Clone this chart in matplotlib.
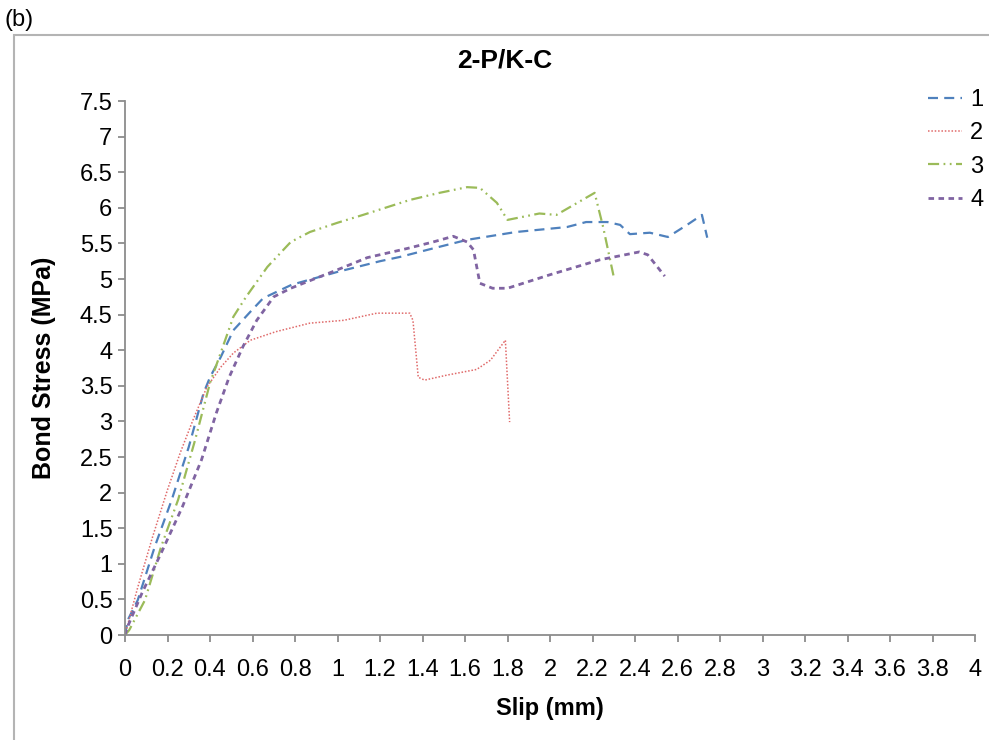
import matplotlib
matplotlib.use('Agg')
import matplotlib.pyplot as plt
from matplotlib.patches import Rectangle

plt.rcParams['font.family'] = ['Liberation Sans', 'DejaVu Sans']

# specimen 1
x1 = [0, 0.013, 0.06, 0.14, 0.22, 0.30, 0.37, 0.40, 0.45, 0.51, 0.59, 0.65, 0.785, 1.0, 1.2, 1.294,
      1.45, 1.61, 1.84, 2.08, 2.17, 2.27, 2.33, 2.376, 2.47, 2.555, 2.645, 2.715, 2.74]
y1 = [0, 0.21, 0.49, 1.24, 1.90, 2.64, 3.40, 3.62, 3.90, 4.28, 4.54, 4.73, 4.92, 5.10, 5.25, 5.31,
      5.43, 5.55, 5.66, 5.73, 5.80, 5.80, 5.76, 5.63, 5.65, 5.59, 5.76, 5.90, 5.58]
# specimen 2
x2 = [0, 0.06, 0.13, 0.20, 0.26, 0.32, 0.385, 0.45, 0.51, 0.59, 0.71, 0.87, 1.03, 1.185, 1.34,
      1.355, 1.38, 1.41, 1.515, 1.655, 1.72, 1.79, 1.81]
y2 = [0, 0.67, 1.38, 2.04, 2.56, 3.02, 3.48, 3.76, 3.96, 4.14, 4.26, 4.38, 4.42, 4.52, 4.52,
      4.42, 3.62, 3.58, 3.65, 3.73, 3.86, 4.14, 2.99]
# specimen 3
x3 = [0, 0.02, 0.094, 0.17, 0.25, 0.33, 0.40, 0.45, 0.51, 0.57, 0.67, 0.78, 0.87, 1.0, 1.12, 1.34,
      1.48, 1.61, 1.67, 1.75, 1.80, 1.95, 2.03, 2.21, 2.25, 2.30]
y3 = [0, 0.07, 0.49, 1.24, 1.90, 2.74, 3.54, 3.96, 4.47, 4.75, 5.17, 5.52, 5.66, 5.79, 5.90, 6.11,
      6.21, 6.29, 6.28, 6.07, 5.83, 5.92, 5.90, 6.21, 5.73, 5.03]
# specimen 4
x4 = [0, 0.01, 0.08, 0.17, 0.27, 0.36, 0.43, 0.49, 0.555, 0.62, 0.70, 0.78, 1.0, 1.14, 1.33, 1.45,
      1.545, 1.61, 1.64, 1.67, 1.73, 1.80, 2.0, 2.235, 2.42, 2.46, 2.54]
y4 = [0, 0.1, 0.59, 1.15, 1.80, 2.46, 3.12, 3.62, 4.05, 4.42, 4.75, 4.87, 5.13, 5.30, 5.43, 5.52,
      5.60, 5.52, 5.41, 4.94, 4.87, 4.87, 5.06, 5.27, 5.38, 5.34, 5.04]

xticks = [0, 0.2, 0.4, 0.6, 0.8, 1, 1.2, 1.4, 1.6, 1.8, 2, 2.2, 2.4, 2.6, 2.8, 3, 3.2, 3.4, 3.6, 3.8, 4]
yticks = [0, 0.5, 1, 1.5, 2, 2.5, 3, 3.5, 4, 4.5, 5, 5.5, 6, 6.5, 7, 7.5]

fig = plt.figure(figsize=(9.89, 7.40), dpi=100)
ax = fig.add_axes([125/989, 1-635/740, 850/989, 534/740])

# outer chart frame
fig.patches.append(Rectangle((14/989, -0.05), 1.0, 1-35/740+0.05, transform=fig.transFigure,
                             fill=False, edgecolor='#b4b4b4', linewidth=1.5))

ax.plot(x1, y1, color='#4f81bd', lw=1.6, linestyle=(0, (4.5, 2.8)), label='1')
ax.plot(x2, y2, color='#e06a6a', lw=1.1, linestyle=(0, (1, 1.2)), label='2')
ax.plot(x3, y3, color='#9bbb59', lw=1.6, linestyle=(0, (5, 2, 0.8, 2, 0.8, 2)), label='3')
ax.plot(x4, y4, color='#8064a2', lw=2.0, linestyle=(0, (2, 1.6)), label='4')

ax.set_xlim(0, 4)
ax.set_ylim(0, 7.5)
ax.set_xticks(xticks)
ax.set_xticklabels([f'{t:g}' for t in xticks])
ax.set_yticks(yticks)
ax.set_yticklabels([f'{t:g}' for t in yticks])
ax.tick_params(axis='both', labelsize=17, color='#8c8c8c', length=5, width=1.3, direction='out')
ax.tick_params(axis='x', pad=12)
ax.tick_params(axis='y', pad=4)
for s in ['top', 'right']:
    ax.spines[s].set_visible(False)
for s in ['left', 'bottom']:
    ax.spines[s].set_color('#8c8c8c')
    ax.spines[s].set_linewidth(1.3)

ax.set_xlabel('Slip (mm)', fontsize=17, fontweight='bold')
ax.set_ylabel('Bond Stress (MPa)', fontsize=18, fontweight='bold')
ax.xaxis.set_label_coords(0.5, (635-697)/534)
ax.yaxis.set_label_coords((56-125)/850, 0.5)
fig.text(505/989, 1-61/740, '2-P/K-C', fontsize=19, fontweight='bold', ha='center', va='center')
fig.text(4/989, 1-20/740, '(b)', fontsize=17, ha='left', va='center')

ax.legend(loc='upper left', bbox_to_anchor=(928/989, 1-89/740), bbox_transform=fig.transFigure,
          frameon=False, fontsize=17, handlelength=1.45, handletextpad=0.34, labelspacing=0.48,
          borderpad=0, borderaxespad=0)

fig.savefig('out.png', dpi=100)
